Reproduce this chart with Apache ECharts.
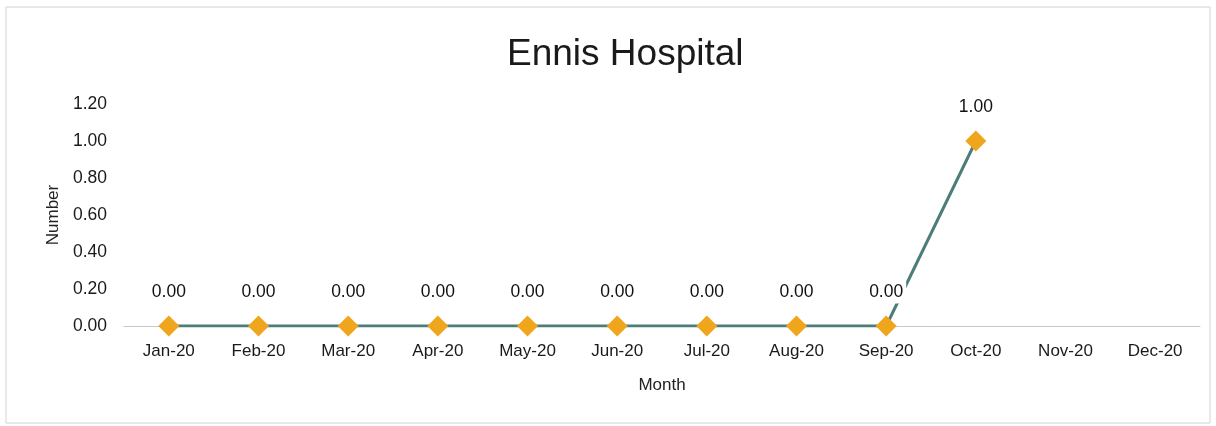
<!DOCTYPE html>
<html><head><meta charset="utf-8">
<script src="https://cdn.jsdelivr.net/npm/echarts@6/dist/echarts.min.js"></script>
<style>html,body{margin:0;padding:0;background:#fff}#c{width:1216px;height:426px}</style>
</head><body><div id="c"></div>
<script>
const categories = ['Jan-20','Feb-20','Mar-20','Apr-20','May-20','Jun-20','Jul-20','Aug-20','Sep-20','Oct-20','Nov-20','Dec-20'];
const values = [0,0,0,0,0,0,0,0,0,1,null,null];
const chart = echarts.init(document.getElementById('c'));
const font = 'Liberation Sans, Arial, sans-serif';
chart.setOption({
  animation: false,
  backgroundColor: '#fff',
  title: { text: 'Ennis Hospital', left: 502, top: 31, textStyle: { fontFamily: font, fontSize: 37, fontWeight: 'normal', color: '#1a1a1a' } },
  graphic: [{ type: 'rect', shape: { x: 6, y: 7, width: 1204, height: 416 }, style: { fill: 'none', stroke: '#d2d2d2', lineWidth: 1 } }],
  grid: { left: 124, right: 16, top: 104, bottom: 100 },
  xAxis: {
    type: 'category', data: categories, name: 'Month', nameLocation: 'middle', nameGap: 51,
    nameTextStyle: { fontFamily: font, fontSize: 17, color: '#222' },
    axisLine: { lineStyle: { color: '#c8c8c8' } }, axisTick: { show: false },
    axisLabel: { fontFamily: font, fontSize: 17, color: '#1a1a1a', margin: 17 }
  },
  yAxis: {
    type: 'value', min: 0, max: 1.2, interval: 0.2, name: 'Number', nameLocation: 'middle', nameGap: 62,
    nameTextStyle: { fontFamily: font, fontSize: 17, color: '#222' },
    axisLine: { show: false }, axisTick: { show: false }, splitLine: { show: false },
    axisLabel: { fontFamily: font, fontSize: 17.5, color: '#1a1a1a', margin: 17, formatter: v => v.toFixed(2) }
  },
  series: [{
    type: 'line', data: values, symbol: 'diamond', symbolSize: 21,
    lineStyle: { color: '#4d7d79', width: 3 },
    itemStyle: { color: '#f0a61c' },
    label: { show: true, position: 'top', distance: 12, fontFamily: font, fontSize: 17.5, color: '#111',
      backgroundColor: '#fff', padding: [2, 3], formatter: p => p.value.toFixed(2) }
  }]
});
</script></body></html>
